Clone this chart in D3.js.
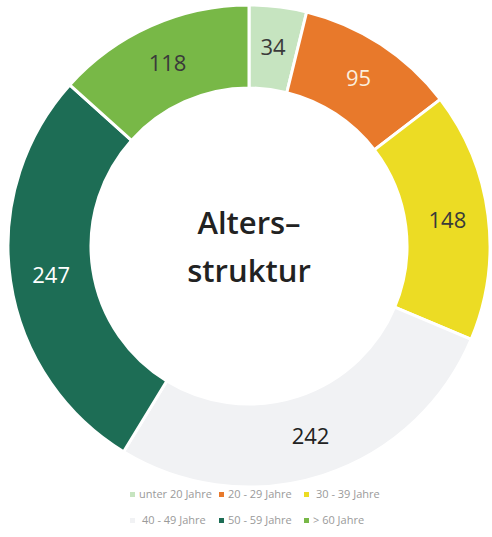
<!DOCTYPE html>
<html>
<head>
<meta charset="utf-8">
<script src="https://cdn.jsdelivr.net/npm/d3@7"></script>
<style>
  body { margin: 0; background: #fff; }
  svg { display: block; }
</style>
</head>
<body>
<div id="chart"></div>
<script>
// Altersstruktur donut
var categories = ["unter 20 Jahre", "20 - 29 Jahre", "30 - 39 Jahre", "40 - 49 Jahre", "50 - 59 Jahre", "> 60 Jahre"];
var values = [34, 95, 148, 242, 247, 118];
var colors = ["#c6e4c0", "#e8792b", "#ecdc24", "#f1f2f4", "#1d6d55", "#78b847"];
var labelColors = ["#3a3a3a", "#fbeedd", "#3a3a3a", "#222", "#ffffff", "#3a3a3a"];
var titleLines = ["Alters–", "struktur"];

var width = 492,
    height = 537,
    cx = 249,
    cy = 246,
    outerR = 241,
    innerR = 158;

var svg = d3.select("#chart").append("svg")
    .attr("width", width)
    .attr("height", height);

var data = categories.map(function(c, i) { return {cat: c, value: values[i], i: i}; });

var pie = d3.pie()
    .sort(null)
    .value(function(d) { return d.value; });

var arc = d3.arc()
    .innerRadius(innerR)
    .outerRadius(outerR);

var labelArc = d3.arc()
    .innerRadius(200)
    .outerRadius(200);

var g = svg.append("g")
    .attr("transform", "translate(" + cx + "," + cy + ")");

var slices = g.selectAll(".slice")
    .data(pie(data))
    .enter().append("g")
    .attr("class", "slice");

slices.append("path")
    .attr("d", arc)
    .attr("fill", function(d) { return colors[d.data.i]; })
    .attr("stroke", "#fff")
    .attr("stroke-width", 3);

slices.append("text")
    .attr("transform", function(d) { return "translate(" + labelArc.centroid(d) + ")"; })
    .attr("text-anchor", "middle")
    .attr("dy", "0.35em")
    .style("font-family", "'Open Sans', sans-serif")
    .style("font-size", "22px")
    .attr("fill", function(d) { return labelColors[d.data.i]; })
    .text(function(d) { return d.data.value; });

// center title
g.selectAll(".title")
    .data(titleLines)
    .enter().append("text")
    .attr("class", "title")
    .attr("text-anchor", "middle")
    .attr("y", function(d, i) { return -12 + i * 48; })
    .style("font-family", "'Open Sans', sans-serif")
    .style("font-size", "31px")
    .style("font-weight", "600")
    .attr("fill", "#222")
    .text(function(d) { return d; });

// legend, 3 per row
var legendX = [130, 219, 304],
    legendY = [498, 524];

var legend = svg.selectAll(".legend")
    .data(data)
    .enter().append("g")
    .attr("class", "legend")
    .attr("transform", function(d, i) { return "translate(" + legendX[i % 3] + "," + legendY[Math.floor(i / 3)] + ")"; });

legend.append("rect")
    .attr("x", 0)
    .attr("y", -6)
    .attr("width", 5)
    .attr("height", 5)
    .attr("fill", function(d) { return colors[d.i]; });

legend.append("text")
    .attr("x", function(d) { return d.i === 2 || d.i === 3 ? 12 : 9; })
    .attr("y", 0)
    .style("font-family", "'Open Sans', sans-serif")
    .style("font-size", "11px")
    .attr("fill", "#9a9a9a")
    .text(function(d) { return d.cat; });
</script>
</body>
</html>
